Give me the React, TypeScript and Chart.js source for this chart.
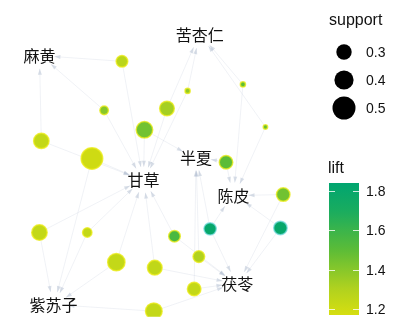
import React, { useEffect, useRef } from "react";
import { Chart, registerables } from "chart.js";

Chart.register(...registerables);

// Item (label) nodes of the rule graph
const itemLabels = ["麻黄", "苦杏仁", "半夏", "甘草", "陈皮", "茯苓", "紫苏子"];
const itemX = [29, 200, 196, 140, 236, 240, 44];
const itemY = [47, 25, 157, 181, 198, 293, 316];

// Rule nodes: layout position, support, lift
const ruleX = [117, 187, 246, 98, 165, 270, 141, 31, 85, 228, 289, 29, 80, 173, 211, 286, 111, 152, 199, 194, 151];
const ruleY = [53, 85, 78, 106, 104, 124, 127, 139, 158, 162, 197, 238, 238, 242, 234, 233, 270, 276, 264, 299, 323];
const ruleSupport = [0.24, 0.07, 0.07, 0.16, 0.32, 0.05, 0.37, 0.34, 0.5, 0.29, 0.29, 0.34, 0.18, 0.24, 0.26, 0.29, 0.39, 0.32, 0.24, 0.29, 0.37];
const ruleLift = [1.27, 1.38, 1.5, 1.4, 1.33, 1.48, 1.45, 1.24, 1.2, 1.5, 1.45, 1.24, 1.24, 1.55, 1.8, 1.8, 1.24, 1.25, 1.3, 1.24, 1.24];

// Edges: rule index -> item index
const edgeRule = [0, 0, 1, 1, 2, 2, 3, 3, 4, 4, 5, 5, 6, 6, 7, 7, 8, 8, 9, 9, 10, 10, 11, 11, 12, 12, 13, 13, 14, 14, 14, 15, 15, 16, 16, 17, 17, 18, 18, 19, 19, 20, 20];
const edgeItem = [0, 3, 1, 3, 1, 4, 0, 3, 1, 3, 1, 4, 2, 3, 0, 3, 3, 6, 2, 4, 4, 5, 6, 3, 6, 3, 3, 5, 4, 2, 5, 4, 5, 6, 3, 5, 3, 2, 5, 5, 2, 5, 6];

// Legend data
const supportLegend = [0.3, 0.4, 0.5];
const liftTicks = [1.8, 1.6, 1.4, 1.2];
const liftMin = 1.17;
const liftMax = 1.84;

const colorStops: [number, number[]][] = [
  [1.17, [214, 222, 16]],
  [1.3, [178, 210, 30]],
  [1.5, [92, 188, 55]],
  [1.7, [25, 172, 95]],
  [1.84, [0, 165, 112]],
];

function liftColor(v: number, a = 1): string {
  const s = colorStops;
  if (v <= s[0][0]) return `rgba(${s[0][1].join(",")},${a})`;
  for (let i = 1; i < s.length; i++) {
    if (v <= s[i][0]) {
      const t = (v - s[i - 1][0]) / (s[i][0] - s[i - 1][0]);
      const c = s[i - 1][1].map((c0, k) => Math.round(c0 + (s[i][1][k] - c0) * t));
      return `rgba(${c.join(",")},${a})`;
    }
  }
  return `rgba(${s[s.length - 1][1].join(",")},${a})`;
}

function sizeOf(support: number): number {
  return 2 + 19 * support;
}

export default function App() {
  const ref = useRef<HTMLCanvasElement | null>(null);

  useEffect(() => {
    document.body.style.margin = "0";
    const canvas = ref.current!;

    const overlay = {
      id: "graphOverlay",
      beforeDatasetsDraw(chart: any) {
        const ctx = chart.ctx;
        const xs = chart.scales.x;
        const ys = chart.scales.y;
        ctx.save();
        ctx.strokeStyle = "rgba(180,192,208,0.2)";
        ctx.fillStyle = "rgba(170,185,205,0.45)";
        ctx.lineWidth = 1;
        for (let e = 0; e < edgeRule.length; e++) {
          const r = edgeRule[e];
          const it = edgeItem[e];
          const x1 = xs.getPixelForValue(ruleX[r]);
          const y1 = ys.getPixelForValue(ruleY[r]);
          const x2 = xs.getPixelForValue(itemX[it]);
          const y2 = ys.getPixelForValue(itemY[it]);
          const dx = x2 - x1;
          const dy = y2 - y1;
          const len = Math.hypot(dx, dy);
          if (len < 1) continue;
          const ux = dx / len;
          const uy = dy / len;
          const ex = x2 - ux * 15;
          const ey = y2 - uy * 13;
          ctx.beginPath();
          ctx.moveTo(x1, y1);
          ctx.lineTo(ex, ey);
          ctx.stroke();
          ctx.beginPath();
          ctx.moveTo(ex, ey);
          ctx.lineTo(ex - ux * 6 - uy * 2, ey - uy * 6 + ux * 2);
          ctx.lineTo(ex - ux * 6 + uy * 2, ey - uy * 6 - ux * 2);
          ctx.closePath();
          ctx.fill();
        }
        ctx.restore();
      },
      afterDatasetsDraw(chart: any) {
        const ctx = chart.ctx;
        const xs = chart.scales.x;
        const ys = chart.scales.y;
        ctx.save();
        // item labels
        ctx.fillStyle = "#111";
        ctx.font = '16px "Noto Sans CJK SC"';
        ctx.textAlign = "center";
        ctx.textBaseline = "middle";
        itemLabels.forEach((lab, i) => {
          ctx.fillText(lab, xs.getPixelForValue(itemX[i]), ys.getPixelForValue(itemY[i]));
        });

        // support legend
        ctx.textAlign = "left";
        ctx.font = '16px "Liberation Sans", Arial, sans-serif';
        ctx.fillStyle = "#111";
        ctx.fillText("support", 329, 21);
        ctx.font = '14px "Liberation Sans", Arial, sans-serif';
        supportLegend.forEach((s, i) => {
          const cy = 52 + i * 28;
          ctx.beginPath();
          ctx.arc(344, cy, sizeOf(s), 0, Math.PI * 2);
          ctx.fillStyle = "#000";
          ctx.fill();
          ctx.fillStyle = "#111";
          ctx.fillText(s.toFixed(1), 366, cy + 1);
        });

        // lift colour bar
        ctx.font = '16px "Liberation Sans", Arial, sans-serif';
        ctx.fillText("lift", 328, 169);
        const top = 183;
        const bottom = 315;
        const left = 329;
        const right = 359;
        const yFor = (v: number) => bottom - ((v - liftMin) / (liftMax - liftMin)) * (bottom - top);
        const grad = ctx.createLinearGradient(0, bottom, 0, top);
        for (let k = 0; k <= 20; k++) {
          const v = liftMin + ((liftMax - liftMin) * k) / 20;
          grad.addColorStop(k / 20, liftColor(v));
        }
        ctx.fillStyle = grad;
        ctx.fillRect(left, top, right - left, bottom - top);
        ctx.strokeStyle = "rgba(255,255,255,0.8)";
        ctx.lineWidth = 1;
        ctx.font = '14px "Liberation Sans", Arial, sans-serif';
        liftTicks.forEach((t) => {
          const y = Math.round(yFor(t)) + 0.5;
          ctx.beginPath();
          ctx.moveTo(left, y);
          ctx.lineTo(left + 6, y);
          ctx.moveTo(right - 6, y);
          ctx.lineTo(right, y);
          ctx.stroke();
          ctx.fillStyle = "#111";
          ctx.fillText(t.toFixed(1), 366, y + 1);
        });
        ctx.restore();
      },
    };

    const chart = new Chart(canvas, {
      type: "bubble",
      data: {
        datasets: [
          {
            data: ruleX.map((x, i) => ({ x, y: ruleY[i], r: sizeOf(ruleSupport[i]) - 0.75 })),
            backgroundColor: ruleLift.map((l) => liftColor(l)),
            borderColor: ruleLift.map((l) => (l > 1.7 ? "rgba(120,220,225,0.7)" : "rgba(235,235,20,0.75)")),
            borderWidth: 1.5,
            hoverRadius: 0,
          },
        ],
      },
      options: {
        responsive: false,
        animation: false,
        layout: { padding: 0 },
        plugins: { legend: { display: false }, tooltip: { enabled: false } },
        scales: {
          x: { type: "linear", min: 0, max: 393, display: false },
          y: { type: "linear", min: 0, max: 329, reverse: true, display: false },
        },
      },
      plugins: [overlay],
    });
    return () => chart.destroy();
  }, []);

  return (
    <div style={{ width: 393, height: 329, background: "#fff" }}>
      <canvas ref={ref} width={393} height={329} style={{ display: "block" }} />
    </div>
  );
}
